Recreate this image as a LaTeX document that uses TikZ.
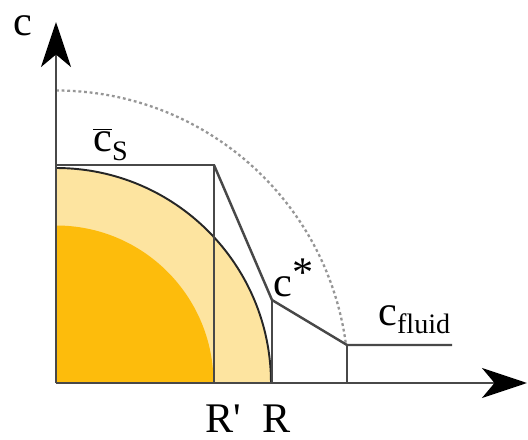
\documentclass[tikz,border=0pt]{standalone}
\usepackage{fontspec}
\setmainfont{Liberation Serif}
\usepackage{tikz}
\usetikzlibrary{arrows.meta,positioning,calc}
\definecolor{corecol}{RGB}{253,188,12}
\definecolor{shellcol}{RGB}{253,228,160}
\definecolor{linecol}{RGB}{72,72,72}
\definecolor{dotcol}{RGB}{150,150,150}
\newcommand{\lowsub}[1]{\raisebox{-5pt}{\fontsize{16}{18}\selectfont #1}}

\begin{document}
\begin{tikzpicture}[
  axis/.style={draw=linecol, line width=1.7pt,
    -{Stealth[length=9mm, width=6mm, inset=2.5mm, color=black]}},
  profile/.style={draw=linecol, line width=1.4pt},
  rim/.style={draw=black!85, line width=1.1pt},
  bound/.style={draw=dotcol, line width=1.3pt, dash pattern=on 1.6pt off 1.6pt},
  lbl/.style={font=\fontsize{24}{29}\selectfont, inner sep=0pt}
]
\useasboundingbox (-1.12,-1.14) rectangle (9.44,7.66);
\coordinate (O) at (0,0);
\coordinate (ytop) at (0,7.22);
\coordinate (xend) at (9.42,0);
\coordinate (cs) at (0,4.36);
\coordinate (rtop) at (3.16,4.36);
\coordinate (rp) at (3.16,0);
\coordinate (cstar) at (4.32,1.66);
\coordinate (r) at (4.32,0);
\coordinate (cf) at (5.82,0.76);
\coordinate (cfb) at (5.82,0);
\coordinate (cfend) at (7.92,0.76);
% particle: shell and core
\fill[shellcol] (O) -- (4.3,0) arc[start angle=0, end angle=90, radius=4.3] -- cycle;
\fill[corecol] (O) -- (3.15,0) arc[start angle=0, end angle=90, radius=3.15] -- cycle;
\draw[rim] (4.3,0) arc[start angle=0, end angle=90, radius=4.3];
\draw[bound] (0,5.85) arc[start angle=90, end angle=7.4, radius=5.85];
% concentration profile
\draw[profile] (cs) -- (rtop) -- (rp);
\draw[profile] (rtop) -- (cstar) -- (cf) -- (cfend);
\draw[profile] (cstar) -- (r);
\draw[profile] (cf) -- (cfb);
% axes
\draw[axis] (O) -- (ytop);
\draw[axis] (O) -- (xend);
% labels
\node[lbl] (lblc) at (-0.66,7.14) {c};
\node[lbl, anchor=base west] (lblcs) at (0.74,4.62) {$\overline{\mbox{c}}$\lowsub{S}};
\node[lbl, anchor=base west] (lblcstar) at (4.34,1.72) {c\raisebox{6pt}{*}};
\node[lbl, anchor=base west] (lblcfluid) at (6.44,1.16) {c\lowsub{fluid}};
\node[lbl, anchor=base west] (lblrp) at (2.98,-0.98) {R\textquotesingle};
\node[lbl, anchor=base west] (lblr) at (4.12,-0.98) {R};
\end{tikzpicture}
\end{document}
